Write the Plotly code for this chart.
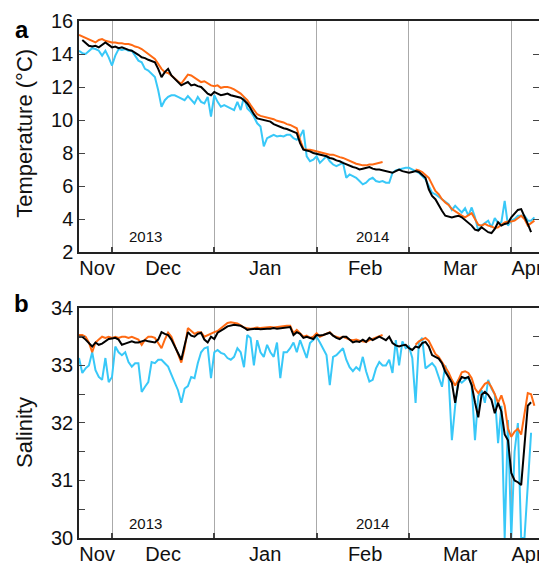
import pandas as pd
import plotly.graph_objects as go

N = None
start_date = "2013-11-21"

temp_orange = [15.15, 15.05, 14.95, 14.85, 14.75, 14.7, 14.85, 14.9, 14.8, 14.75,
               14.7, 14.7, 14.65, 14.65, 14.6, 14.6, 14.55, 14.45, 14.4, 14.3,
               14.15, 14.0, 13.9, 13.7, 13.4, 13.1, 12.9, 12.85, 12.7, 12.5,
               12.35, 12.2, 12.5, 12.75, 12.7, 12.55, 12.4, 12.3, 12.35, 12.2,
               12.1, 12.05, 12.1, 11.95, 12.0, 12.0, 11.95, 11.85, 11.75, 11.6,
               11.4, 11.2, 10.9, 10.6, 10.35, 10.25, 10.2, 10.15, 10.1, 10.05,
               9.95, 9.9, 9.85, 9.75, 9.7, 9.6, 9.5, 8.8, 8.25, 8.2,
               8.2, 8.15, 8.1, 8.05, 8.0, 7.95, 7.9, 7.9, 7.8, 7.75,
               7.7, 7.6, 7.5, 7.4, 7.35, 7.3, 7.25, 7.25, 7.3, 7.3,
               7.35, 7.4, 7.45, N, N, N, N, N, N, N,
               N, N, 7.0, 6.95, 6.85, 6.7, 6.5, 6.1, 5.7, 5.5,
               5.2, 5.0, 4.85, 4.6, 4.45, 4.3, 4.2, 4.1, 4.2, 4.35,
               4.0, 3.65, 3.6, 3.7, 3.6, 3.55, 3.45, 3.5, 3.65, 3.8,
               3.85, 3.85, 3.9, 4.05, 4.2, 4.0, 3.6, 3.75, 3.9]

temp_black = [N, 14.85, 14.7, 14.5, 14.45, 14.5, 14.4, 14.55, 14.7, 14.55,
              14.4, 14.45, 14.35, 14.4, 14.3, 14.25, 14.2, 14.1, 13.95, 13.8,
              13.75, 13.65, 13.55, 13.5, 13.1, 12.6, 12.9, 13.1, 12.7, 12.5,
              12.3, 12.1, 12.2, 12.3, 12.1, 12.15, 12.05, 12.0, 11.8, 11.6,
              11.5, 11.7, 11.6, 11.5, 11.55, 11.6, 11.5, 11.45, 11.4, 11.35,
              11.2, 11.0, 10.7, 10.35, 10.1, 10.05, 10.0, 9.95, 9.9, 9.75,
              9.65, 9.55, 9.5, 9.45, 9.35, 9.25, 9.2, 8.6, 8.2, 8.15,
              8.1, 8.0, 7.95, 7.9, 7.85, 7.8, 7.7, 7.65, 7.55, 7.5,
              7.4, 7.3, 7.2, 7.15, 7.1, 7.0, 7.05, 7.1, 7.15, 7.05,
              7.0, 7.0, 6.95, 6.9, 6.85, 6.8, 6.9, 7.0, 6.9, 6.85,
              6.8, 6.85, 6.9, 6.85, 6.7, 6.5, 5.8, 5.4, 5.2, 4.8,
              4.5, 4.2, 4.15, 4.1, 4.15, 4.2, 4.1, 3.95, 3.8, 3.6,
              3.35, 3.3, 3.5, 3.35, 3.2, 3.15, 3.4, 3.8, 3.6, 3.7,
              3.75, 4.1, 4.3, 4.55, 4.6, 4.2, 3.7, 3.2, N]

temp_cyan = [14.2, 14.05, 14.0, 14.2, 14.35, 14.3, 14.2, 13.9, 14.2, 13.8,
             13.3, 13.9, 14.3, 14.25, 14.3, 14.2, 14.2, 13.9, 13.6, 13.5,
             13.1, 13.0, 12.8, 12.6, 11.8, 10.8, 11.2, 11.4, 11.5, 11.5,
             11.4, 11.3, 11.2, 11.45, 11.2, 11.0, 11.4, 11.1, 11.0, 11.4,
             10.2, 11.5, 11.1, 10.8, 10.9, 10.8, 10.7, 10.6, 11.1, 10.6,
             11.4, 10.7, 10.5, 10.2, 9.8, 9.6, 8.4, 8.9, 9.0, 9.1,
             9.0, 9.05, 9.0, 9.1, 9.1, 8.9, 8.8, 9.0, 9.4, 7.8,
             7.5, 7.6, 7.8, 7.4, 7.6, 7.8, 7.5, 7.3, 7.2, 7.3,
             7.4, 6.5, 6.7, 6.6, 6.5, 6.3, 6.1, 6.2, 6.4, 6.5,
             6.3, 6.25, 6.3, 6.2, 6.2, 6.8, 6.95, 7.0, 7.05, 7.1,
             7.1, 7.0, 6.9, 6.8, 6.6, 6.4, 6.0, 5.6, 5.5, 5.35,
             5.25, 5.1, 4.9, 4.55, 4.8, 4.6, 4.4, 4.65, 4.2, 4.7,
             4.1, 3.3, 3.6, 3.75, 3.9, 3.5, 4.05, 3.75, 3.8, 5.1,
             3.6, 3.9, 4.0, 4.2, 4.2, 4.2, 3.9, 3.9, 4.1]

sal_orange = [33.53, 33.53, 33.5, 33.4, 33.23, 33.4, 33.45, 33.5, 33.48, 33.5,
              33.48, 33.5, 33.48, 33.5, 33.5, 33.48, 33.5, 33.48, 33.45, 33.36,
              33.45, 33.5, 33.5, 33.48, 33.4, 33.3, 33.45, 33.57, 33.5, 33.33,
              33.2, 33.05, 33.3, 33.65, 33.6, 33.55, 33.58, 33.58, 33.5, 33.53,
              33.55, 33.58, 33.6, 33.65, 33.7, 33.74, 33.75, 33.74, 33.73, 33.7,
              33.66, 33.65, 33.64, 33.65, 33.66, 33.65, 33.66, 33.66, 33.67, 33.66,
              33.67, 33.67, 33.69, 33.69, 33.69, 33.56, 33.62, 33.55, 33.5, 33.52,
              33.48, 33.5, 33.56, 33.5, 33.53, 33.55, 33.58, 33.52, 33.5, 33.48,
              33.5, 33.47, 33.45, 33.44, 33.45, 33.43, 33.42, 33.41, 33.44, 33.46,
              33.48, 33.5, 33.53, N, N, N, N, N, N, N,
              N, N, 33.36, 33.42, 33.45, 33.48, 33.43, 33.3, 33.2, 33.15,
              33.06, 32.95, 32.88, 32.75, 32.65, 32.75, 32.88, 32.9, 32.87, 32.78,
              32.6, 32.52, 32.6, 32.68, 32.71, 32.62, 32.5, 32.35, 32.48, 32.3,
              31.9, 31.76, 31.85, 31.9, 31.8, 32.2, 32.52, 32.5, 32.3]

sal_black = [33.5, 33.5, 33.45, 33.38, 33.33, 33.4, 33.36, 33.38, 33.42, 33.46,
             33.47, 33.48, 33.45, 33.36, 33.38, 33.4, 33.42, 33.4, 33.4, 33.42,
             33.44, 33.42, 33.41, 33.4, 33.45, 33.58, 33.55, 33.53, 33.45, 33.33,
             33.2, 33.1, 33.35, 33.58, 33.52, 33.5, 33.55, 33.57, 33.45, 33.4,
             33.5, 33.46, 33.57, 33.6, 33.64, 33.68, 33.7, 33.71, 33.7, 33.69,
             33.66, 33.62, 33.63, 33.64, 33.64, 33.63, 33.64, 33.64, 33.64, 33.65,
             33.64, 33.65, 33.66, 33.67, 33.67, 33.53, 33.58, 33.55, 33.48, 33.5,
             33.48, 33.46, 33.53, 33.52, 33.53, 33.55, 33.57, 33.52, 33.48, 33.46,
             33.5, 33.5, 33.45, 33.4, 33.42, 33.41, 33.45, 33.41, 33.48, 33.44,
             33.47, 33.5, 33.47, 33.44, 33.5, 33.39, 33.35, 33.33, 33.35, 33.36,
             33.3, 33.27, 33.33, 33.31, 33.39, 33.41, 33.33, 33.18, 33.15, 33.12,
             33.04, 32.89, 32.8, 32.7, 32.35, 32.7, 32.8, 32.78, 32.8, 32.66,
             32.36, 32.1, 32.49, 32.54, 32.49, 32.4, 32.17, 32.35, 32.2, 31.8,
             31.7, 31.13, 31.0, 30.97, 30.92, 31.6, 32.3, 32.36, N]

sal_cyan = [33.13, 32.87, 32.95, 33.0, 33.23, 32.92, 32.8, 32.75, 33.13, 32.71,
            32.8, 33.33, 33.23, 33.18, 33.23, 33.06, 32.98, 33.04, 33.04, 32.54,
            32.63, 32.71, 33.06, 33.04, 33.1, 33.1, 33.04, 32.98, 32.84, 32.71,
            32.57, 32.35, 32.6, 32.64, 32.8, 32.78, 33.04, 33.23, 33.3, 33.32,
            32.78, 33.23, 33.27, 33.22, 33.2, 33.13, 33.1, 33.15, 33.3, 33.23,
            32.97, 33.53, 33.48, 33.0, 33.44, 33.23, 33.15, 33.36, 33.23, 33.15,
            33.4, 32.78, 33.23, 33.23, 33.3, 33.4, 33.23, 33.44, 33.3, 33.13,
            33.39, 33.44, 33.5, 33.4, 33.3, 33.18, 32.66, 33.15, 33.18, 33.25,
            33.3, 33.1, 32.97, 32.9, 32.97, 32.92, 33.15, 32.9, 32.72, 32.75,
            32.95, 33.06, 33.0, 33.0, 33.1, 32.87, 33.44, 33.0, 33.42, 33.3,
            33.33, 33.13, 32.35, 33.4, 33.48, 32.95, 33.0, 33.04, 32.97, 32.8,
            32.63, 33.0, 32.8, 31.7, 32.3, 32.75, 32.7, 32.75, 32.8, 32.65,
            31.7, 32.47, 32.57, 32.35, 32.75, 32.6, 32.5, 31.65, 32.3, 30.0,
            32.05, 30.0, 31.5, 32.0, 30.0, 30.0, 31.0, 31.83, N]

month_starts = ["2013-12-01", "2014-01-01", "2014-02-01", "2014-03-01", "2014-04-01"]
month_label_pos = ["2013-11-26 12:00", "2013-12-16 12:00", "2014-01-16 10:00",
                   "2014-02-15 17:00", "2014-03-16 12:00", "2014-04-05 19:00"]
month_labels = ["Nov", "Dec", "Jan", "Feb", "Mar", "Apr"]
year_label_pos = ["2013-12-11", "2014-02-18 02:00"]
year_labels = ["2013", "2014"]
x_range = ["2013-11-21", "2014-04-09 09:36"]

dates = pd.date_range(start_date, periods=len(temp_orange), freq="D")

ORANGE = "#FF6A13"
CYAN = "#38C8F8"
BLACK = "#000000"
FONT = "Liberation Sans, Arial, Helvetica, sans-serif"

fig = go.Figure()
for vals, col, yax in [(temp_cyan, CYAN, "y"), (temp_orange, ORANGE, "y"), (temp_black, BLACK, "y"),
                       (sal_cyan, CYAN, "y2"), (sal_orange, ORANGE, "y2"), (sal_black, BLACK, "y2")]:
    fig.add_trace(go.Scatter(x=dates, y=vals, mode="lines",
                             line=dict(color=col, width=2),
                             xaxis="x" if yax == "y" else "x2", yaxis=yax,
                             showlegend=False, connectgaps=False))

xcommon = dict(
    type="date", range=x_range,
    tickmode="array", tickvals=month_label_pos, ticktext=month_labels,
    ticks="", showgrid=False, zeroline=False,
    showline=True, linecolor="#222", linewidth=1.5, mirror=True,
    tickfont=dict(size=20, color="#111", family=FONT),
    ticklabeloverflow="allow", automargin=False, ticklabelstandoff=-3,
    minor=dict(tickmode="array", tickvals=month_starts, ticks="inside",
               ticklen=5, tickcolor="#444", tickwidth=1.5,
               showgrid=True, gridcolor="#aaaaaa", gridwidth=1),
)
ycommon = dict(
    ticks="inside", ticklen=6, tickcolor="#444", tickwidth=1,
    showgrid=False, zeroline=False, automargin=False,
    showline=True, linecolor="#222", linewidth=1.5, mirror="ticks",
    tickfont=dict(size=20, color="#111", family=FONT),
)

fig.update_layout(
    width=539, height=563,
    margin=dict(l=79, r=0, t=21, b=25),
    paper_bgcolor="white", plot_bgcolor="white",
    font=dict(family=FONT, color="#111"),
    xaxis=dict(anchor="y", domain=[0, 1], **xcommon),
    xaxis2=dict(anchor="y2", domain=[0, 1], matches="x", **xcommon),
    yaxis=dict(anchor="x", domain=[0.5532, 1.0], range=[2, 16], tickvals=[2, 4, 6, 8, 10, 12, 14, 16], **ycommon),
    yaxis2=dict(anchor="x2", domain=[0.0, 0.4449], range=[30, 34], tickvals=[30, 31, 32, 33, 34],
                minor=dict(tickvals=[30.5, 31.5, 32.5, 33.5], ticks="inside", ticklen=6, tickcolor="#444"),
                **ycommon),
)

ann = []
for xr, yr in [("x", "y domain"), ("x2", "y2 domain")]:
    for pos, txt in zip(year_label_pos, year_labels):
        ann.append(dict(x=pos, y=0.065, xref=xr, yref=yr, text=txt, showarrow=False,
                        font=dict(size=15, family=FONT, color="#111"),
                        xanchor="center", yanchor="middle"))
ann.append(dict(x=-0.12, y=0.515, xref="paper", yref="y domain", text="Temperature (°C)",
                textangle=-90, showarrow=False, font=dict(size=22, family=FONT, color="#111"),
                xanchor="center", yanchor="middle"))
ann.append(dict(x=-0.12, y=0.46, xref="paper", yref="y2 domain", text="Salinity",
                textangle=-90, showarrow=False, font=dict(size=22, family=FONT, color="#111"),
                xanchor="center", yanchor="middle"))
ann.append(dict(x=-0.124, y=0.983, xref="paper", yref="paper", text="<b>a</b>", showarrow=False,
                font=dict(size=24, family=FONT, color="#000"), xanchor="center", yanchor="middle"))
ann.append(dict(x=-0.124, y=0.4545, xref="paper", yref="paper", text="<b>b</b>", showarrow=False,
                font=dict(size=24, family=FONT, color="#000"), xanchor="center", yanchor="middle"))
fig.update_layout(annotations=ann)

fig.write_html("out.html", config={"displayModeBar": False},
               post_script="document.body.style.margin='0';document.body.style.padding='0';")
